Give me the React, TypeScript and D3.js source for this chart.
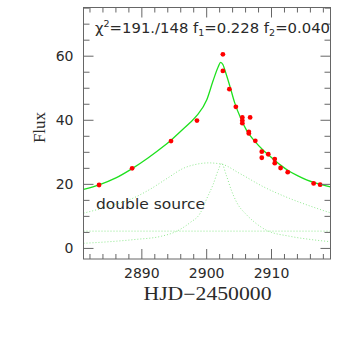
import React from 'react';
import * as d3 from 'd3';

// observed points (HJD-2450000, flux)
const obsT = [2883.4, 2888.5, 2894.5, 2898.5, 2902.5, 2902.5, 2903.5, 2904.5, 2905.5, 2905.5, 2905.5, 2906.7, 2906.5, 2906.5, 2907.5, 2908.5, 2908.5, 2909.5, 2910.5, 2910.5, 2911.4, 2912.5, 2916.5, 2917.5];
const obsF = [19.8, 25.0, 33.5, 39.9, 60.6, 55.4, 49.7, 44.2, 40.9, 39.9, 39.1, 40.9, 36.4, 35.9, 33.6, 30.2, 28.3, 29.4, 27.9, 26.6, 25.1, 23.8, 20.3, 19.9];

// model fit
const fitT = [2881, 2883.5, 2886, 2888.5, 2891, 2893.3, 2894.5, 2896, 2897.5, 2898.5, 2900, 2901, 2901.8, 2902.15, 2902.5, 2902.8, 2903.6, 2904.3, 2905.3, 2906.2, 2907.4, 2908.8, 2910.2, 2911.4, 2912.5, 2914, 2915.4, 2917, 2919.1];
const fitF = [18.4, 19.9, 22.0, 24.9, 28.3, 31.8, 33.8, 36.6, 39.4, 41.5, 46.3, 52.4, 56.8, 58.1, 57.4, 55.7, 50.5, 45.6, 40.4, 36.7, 33.5, 30.5, 28.0, 26.0, 24.4, 22.7, 21.4, 20.3, 19.2];

// broad source component
const broadT = [2881, 2884, 2886, 2888.2, 2891.3, 2894, 2896.4, 2898.5, 2900.3, 2902.3, 2905.1, 2908.7, 2912.8, 2916, 2919.1];
const broadF = [11.0, 12.6, 13.8, 15.3, 18.5, 22.0, 25.0, 26.3, 26.7, 26.3, 23.4, 19.3, 15.6, 13.2, 11.1];

// narrow source component
const narrowT = [2881, 2885, 2889, 2893, 2895.3, 2897.4, 2899, 2900, 2901, 2901.8, 2902.3, 2903, 2903.8, 2904.6, 2906.2, 2907.5, 2909.2, 2912.8, 2916, 2919.1];
const narrowF = [1.6, 2.1, 2.8, 3.8, 5.3, 8.0, 11.0, 15.5, 20.0, 24.5, 26.6, 23.0, 18.2, 14.5, 10.4, 8.0, 5.7, 3.8, 2.8, 2.1];

const baseline = 5.4;

const xTicks = [2890, 2900, 2910];
const yTicks = [0, 20, 40, 60];

const W = 338;
const H = 343;
const L = 83.5, R = 330.5, T = 7.5, B = 259;

export default function App() {
  const x = d3.scaleLinear().domain([2881, 2919.1]).range([L, R]);
  const y = d3.scaleLinear().domain([-3.3, 75.2]).range([B, T]);

  const line = d3.line<[number, number]>()
    .x(d => x(d[0]))
    .y(d => y(d[1]))
    .curve(d3.curveMonotoneX);

  const zip = (a: number[], b: number[]) => a.map((v, i) => [v, b[i]] as [number, number]);

  const xMinor = d3.range(2882, 2919, 2);
  const yMinor = d3.range(0, 76, 5);
  const axisCol = '#666';
  const textCol = '#2a2a2a';

  return (
    <svg width={W} height={H} style={{ position: 'absolute', left: 0, top: 0, background: '#fff' }}>
      <defs>
        <clipPath id="plot">
          <rect x={L} y={T} width={R - L} height={B - T} />
        </clipPath>
      </defs>

      <g clipPath="url(#plot)" fill="none">
        <line x1={L} x2={R} y1={y(baseline)} y2={y(baseline)} stroke="#8fe88f" strokeWidth={1} strokeDasharray="1,2" />
        <path d={line(zip(broadT, broadF)) || ''} stroke="#8fe88f" strokeWidth={1} strokeDasharray="1,2" />
        <path d={line(zip(narrowT, narrowF)) || ''} stroke="#8fe88f" strokeWidth={1} strokeDasharray="1,2" />
        <path d={line(zip(fitT, fitF)) || ''} stroke="#1ee01e" strokeWidth={1.3} />
      </g>

      {obsT.map((t, i) => (
        <circle key={i} cx={x(t)} cy={y(obsF[i])} r={2.4} fill="#ff0000" />
      ))}

      {/* frame */}
      <rect x={L} y={T} width={R - L} height={B - T} fill="none" stroke={axisCol} strokeWidth={1} />

      {/* x ticks, bottom and top */}
      {xMinor.map(v => {
        const big = xTicks.includes(v);
        const len = big ? 10 : 5;
        return (
          <g key={'x' + v} stroke={axisCol} strokeWidth={1}>
            <line x1={x(v)} x2={x(v)} y1={B} y2={B - len} />
            <line x1={x(v)} x2={x(v)} y1={T} y2={T + len} />
          </g>
        );
      })}
      {/* y ticks, left and right */}
      {yMinor.map(v => {
        const big = yTicks.includes(v);
        const len = big ? 10 : 6;
        return (
          <g key={'y' + v} stroke={axisCol} strokeWidth={1}>
            <line x1={L} x2={L + len} y1={y(v)} y2={y(v)} />
            <line x1={R} x2={R - len} y1={y(v)} y2={y(v)} />
          </g>
        );
      })}

      {xTicks.map(v => (
        <text key={'xl' + v} x={x(v)} y={277.5} textAnchor="middle" fontFamily="DejaVu Sans" fontSize={14} fill={textCol}>
          {v}
        </text>
      ))}
      {yTicks.map(v => (
        <text key={'yl' + v} x={73.5} y={y(v)} dy="0.36em" textAnchor="end" fontFamily="DejaVu Sans" fontSize={14} fill={textCol}>
          {v}
        </text>
      ))}

      <text x={207.5} y={299.5} textAnchor="middle" fontFamily="Liberation Serif" fontSize={18} fill={textCol}
        textLength={128} lengthAdjust="spacingAndGlyphs">
        HJD−2450000
      </text>
      <text transform="translate(45,127.5) rotate(-90)" textAnchor="middle" fontFamily="Liberation Serif" fontSize={17} fill={textCol}>
        Flux
      </text>

      <text x={95} y={33} fontFamily="DejaVu Sans" fontSize={14} fill={textCol} textLength={235} lengthAdjust="spacingAndGlyphs">
        χ<tspan fontSize={9} dy={-6}>2</tspan><tspan dy={6}>=191./148  f</tspan><tspan fontSize={9} dy={3}>1</tspan><tspan dy={-3}>=0.228  f</tspan><tspan fontSize={9} dy={3}>2</tspan><tspan dy={-3}>=0.040</tspan>
      </text>

      <text x={96} y={209} fontFamily="DejaVu Sans" fontSize={14} fill={textCol} textLength={109} lengthAdjust="spacingAndGlyphs">
        double source
      </text>
    </svg>
  );
}
